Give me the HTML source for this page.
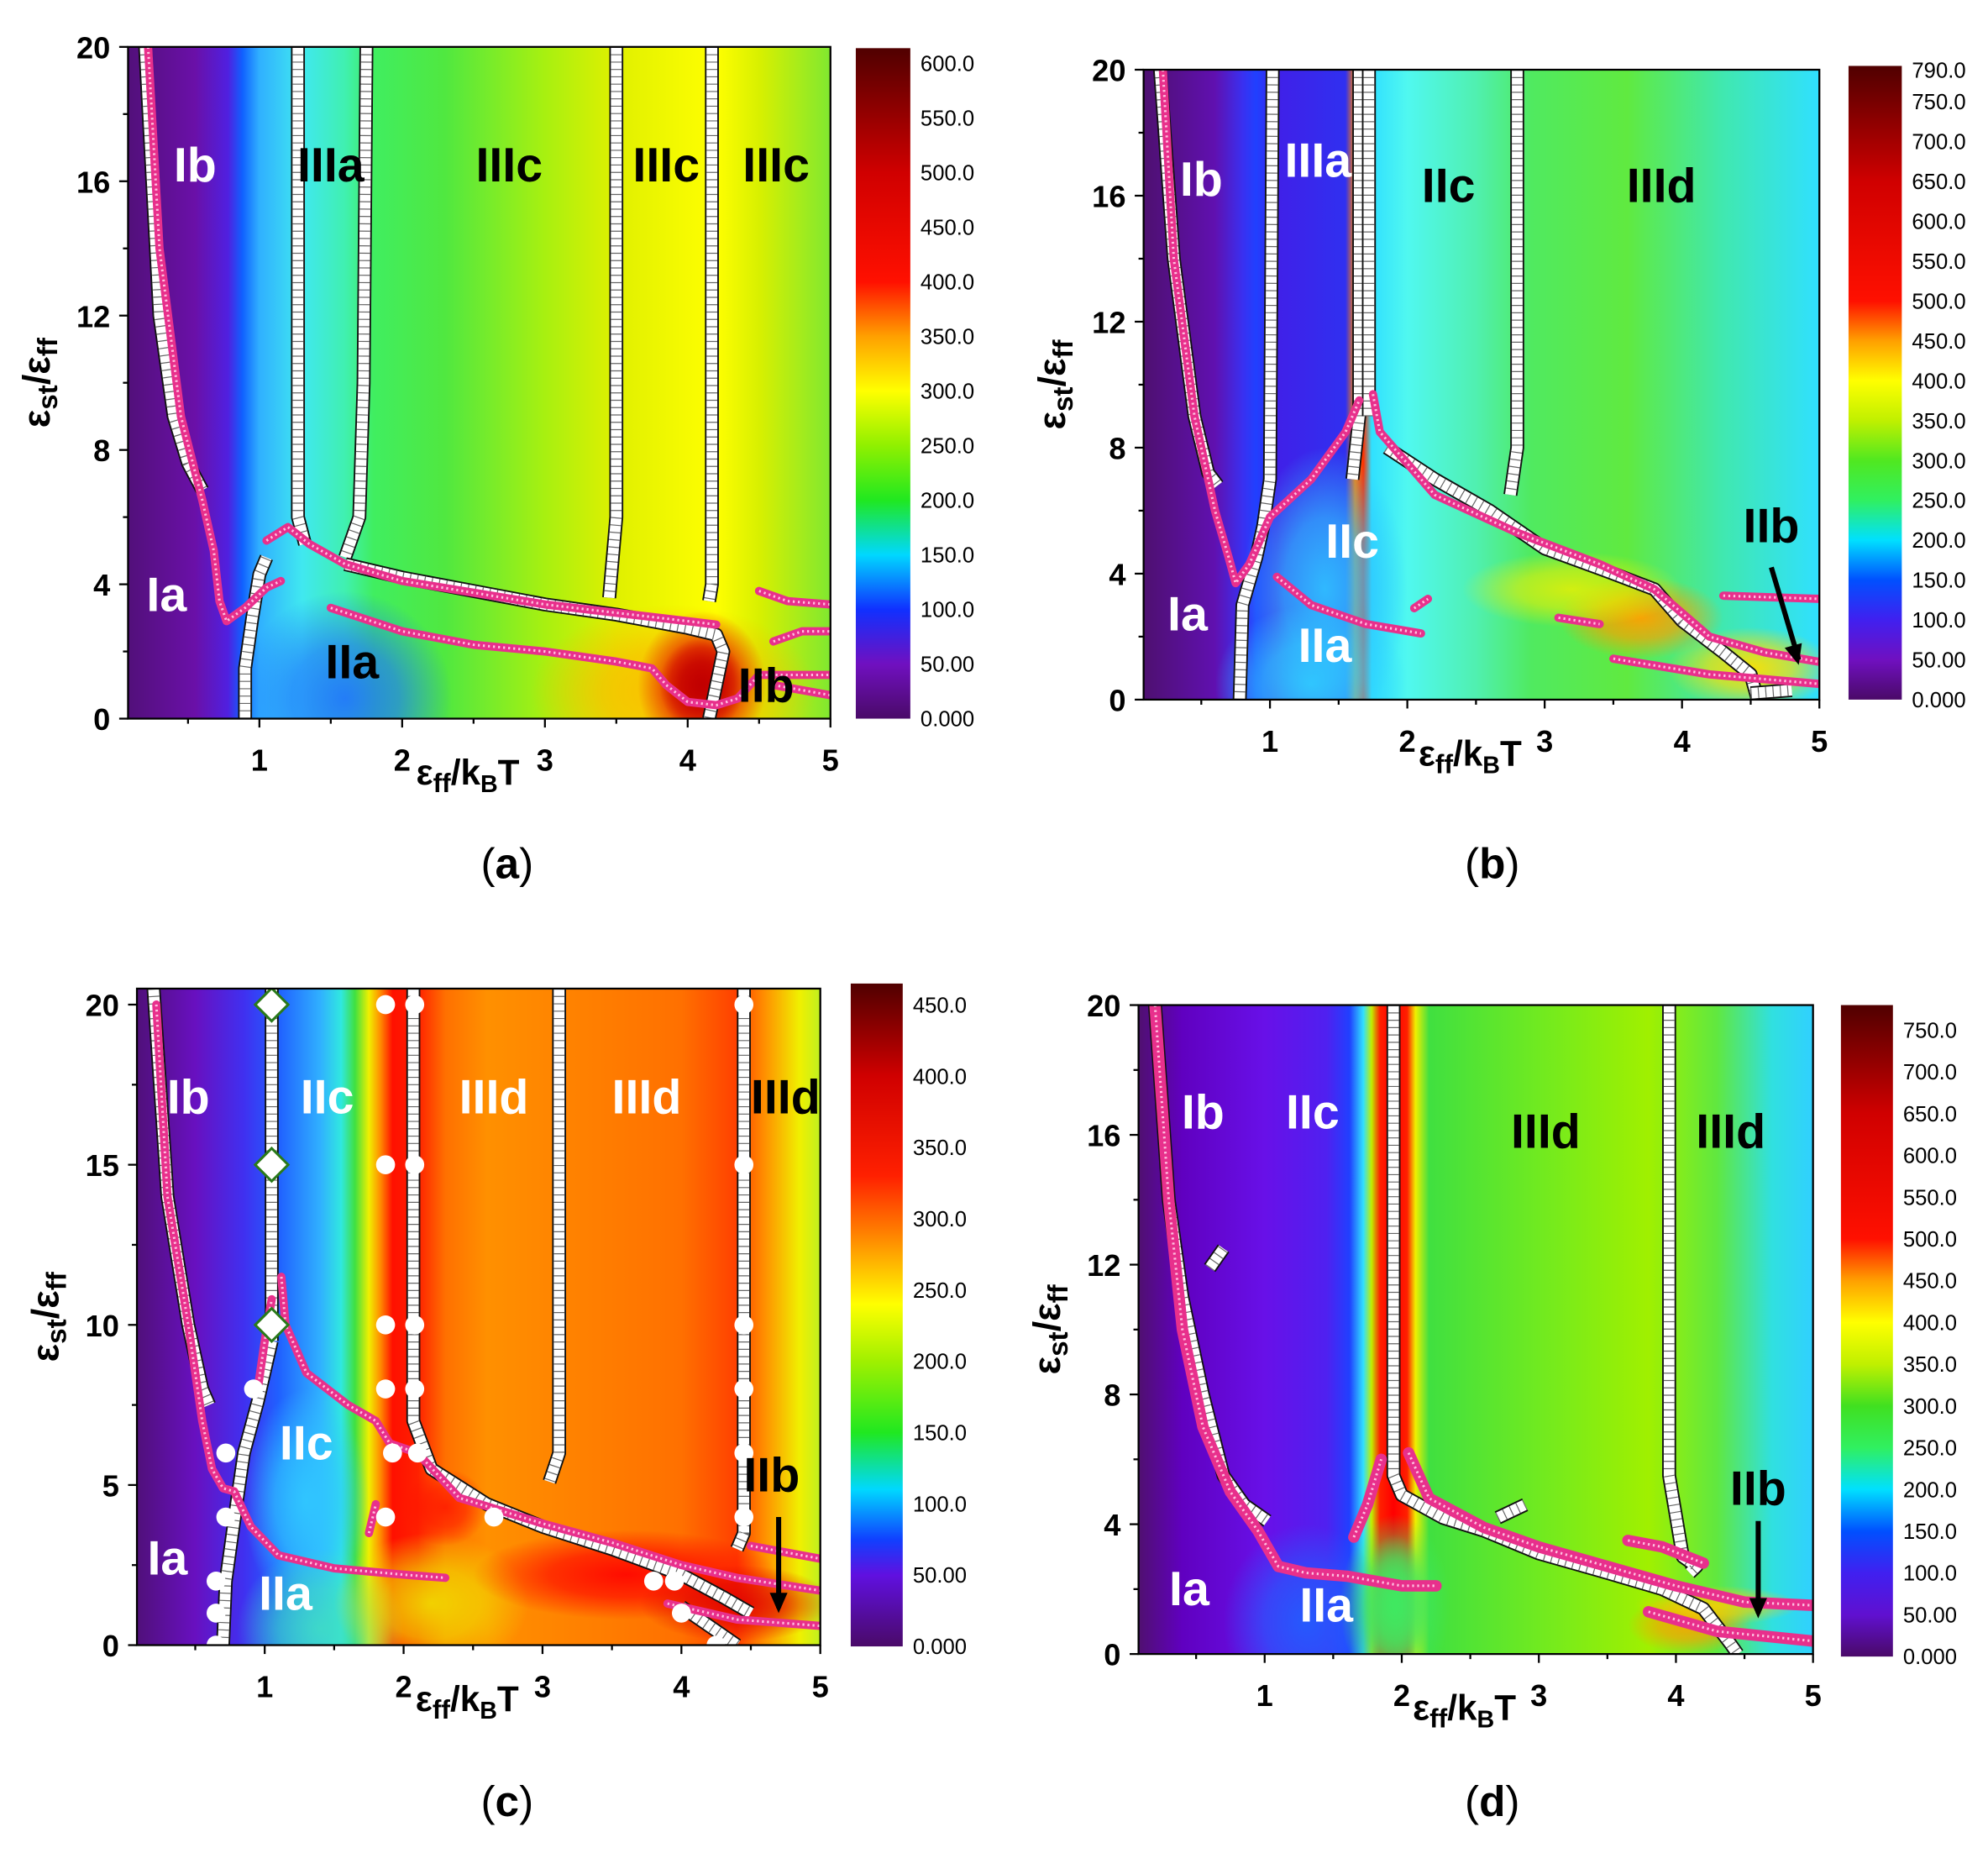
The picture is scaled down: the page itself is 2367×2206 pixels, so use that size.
<!DOCTYPE html>
<html><head><meta charset="utf-8">
<style>
html,body{margin:0;padding:0;background:#fff;}
svg{display:block;}
text{font-family:"Liberation Sans",Arial,sans-serif;}
</style></head>
<body>
<svg id="fig" width="2367" height="2206" viewBox="0 0 1568 1462" preserveAspectRatio="none" xmlns="http://www.w3.org/2000/svg">
<defs id="defs"></defs>
</svg>
<script>
// ---------- DATA ----------
const xTicks = [1,2,3,4,5];
const yTicksA = [0,4,8,12,16,20];
const yTicksC = [0,5,10,15,20];
const cbarLabelsA = ["0.000","50.00","100.0","150.0","200.0","250.0","300.0","350.0","400.0","450.0","500.0","550.0","600.0"];
const cbarValuesA = [0,50,100,150,200,250,300,350,400,450,500,550,600];
const cbarLabelsB = ["0.000","50.00","100.0","150.0","200.0","250.0","300.0","350.0","400.0","450.0","500.0","550.0","600.0","650.0","700.0","750.0","790.0"];
const cbarValuesB = [0,50,100,150,200,250,300,350,400,450,500,550,600,650,700,750,790];
const cbarLabelsC = ["0.000","50.00","100.0","150.0","200.0","250.0","300.0","350.0","400.0","450.0"];
const cbarValuesC = [0,50,100,150,200,250,300,350,400,450];
const cbarLabelsD = ["0.000","50.00","100.0","150.0","200.0","250.0","300.0","350.0","400.0","450.0","500.0","550.0","600.0","650.0","700.0","750.0"];
const cbarValuesD = [0,50,100,150,200,250,300,350,400,450,500,550,600,650,700,750];

// panel a
const aSquares = [
 [[0.2,20],[0.25,16],[0.3,12],[0.4,9],[0.5,7.6],[0.6,6.8]],
 [[0.9,0],[0.9,1.5],[0.95,3],[1.0,4.3],[1.05,4.8]],
 [[1.27,20],[1.27,6],[1.32,5.2]],
 [[1.75,20],[1.73,10],[1.7,6],[1.6,4.8]],
 [[1.6,4.6],[2,4.2],[2.5,3.8],[3,3.4],[3.5,3.1],[4,2.7],[4.2,2.5],[4.25,2],[4.2,1],[4.15,0]],
 [[3.5,20],[3.5,6],[3.45,3.6]],
 [[4.17,20],[4.17,4],[4.15,3.5]]
];
const aStars = [
 [[0.22,20],[0.3,14],[0.45,9],[0.6,6.5],[0.68,5],[0.72,3.5],[0.77,2.9],[0.9,3.3],[1.05,3.9],[1.15,4.1]],
 [[1.05,5.3],[1.2,5.7],[1.35,5.2],[1.6,4.6],[2,4.1],[3,3.4],[4,2.9],[4.2,2.8]],
 [[1.5,3.3],[2,2.6],[2.5,2.2],[3,2],[3.5,1.7],[3.75,1.5],[3.85,1.0],[4.0,0.5],[4.2,0.4],[4.35,0.6],[4.5,1.3],[5,1.3]],
 [[4.5,3.8],[4.7,3.5],[5,3.4]],
 [[4.6,2.3],[4.8,2.6],[5,2.6]],
 [[4.6,1.0],[5,0.7]]
];
const aLabels = [["Ib",0.55,16,"#fff"],["IIIa",1.5,16,"#000"],["IIIc",2.75,16,"#000"],["IIIc",3.85,16,"#000"],["IIIc",4.62,16,"#000"],["Ia",0.35,3.2,"#fff"],["IIa",1.65,1.2,"#000"],["IIb",4.55,0.5,"#000"]];

// panel b
const bSquares = [
 [[0.2,20],[0.3,14],[0.45,9],[0.55,7.2],[0.62,6.8]],
 [[0.78,0],[0.8,3],[0.9,4.5],[0.95,5.5],[1.0,7],[1.02,20]],
 [[1.65,20],[1.65,9],[1.6,7]],
 [[1.72,20],[1.72,9]],
 [[1.85,8],[2.2,7],[2.6,6],[3,4.8],[3.5,4],[3.8,3.5],[4.0,2.5],[4.3,1.5],[4.5,0.8],[4.55,0]],
 [[2.8,20],[2.8,8],[2.75,6.5]],
 [[4.5,0.2],[4.8,0.3]]
];
const bStars = [
 [[0.22,20],[0.3,14],[0.45,9],[0.6,6],[0.7,4.5],[0.75,3.7],[0.85,4.3],[1.0,5.8],[1.3,7],[1.55,8.5],[1.65,9.5]],
 [[1.75,9.7],[1.8,8.5],[2.2,6.5],[2.8,5.3],[3.4,4.3],[3.8,3.5],[4.2,2],[4.6,1.5],[5,1.2]],
 [[1.05,3.9],[1.3,3.0],[1.7,2.4],[2.1,2.1]],
 [[2.05,2.9],[2.15,3.2]],
 [[3.1,2.6],[3.4,2.4]],
 [[3.5,1.3],[4.2,0.8],[5,0.5]],
 [[4.3,3.3],[5,3.2]]
];
const bLabels = [["Ib",0.5,16,"#fff"],["IIIa",1.35,16.6,"#fff"],["IIc",2.3,15.8,"#000"],["IIId",3.85,15.8,"#000"],["IIc",1.6,4.5,"#fff"],["Ia",0.4,2.2,"#fff"],["IIa",1.4,1.2,"#fff"],["IIb",4.65,5,"#000"]];

// panel c
const cSquares = [
 [[0.2,20.5],[0.3,14],[0.45,10],[0.55,8],[0.6,7.5]],
 [[0.7,0],[0.72,2],[0.8,4.5],[0.85,6],[0.95,7.6],[1.05,9.5]],
 [[1.05,20.5],[1.05,9.5]],
 [[2.07,20.5],[2.07,7],[2.2,5.5],[2.6,4.4],[3,3.7],[3.5,3],[4,2.2],[4.3,1.5],[4.5,1]],
 [[3.12,20.5],[3.12,6],[3.05,5.1]],
 [[4.45,20.5],[4.45,3.5],[4.4,3]],
 [[4.0,1.2],[4.3,0.3],[4.4,0]]
];
const cCircles = [[0.65,0],[0.65,1],[0.65,2],[0.72,4],[0.72,6],[0.92,8],[1.87,20],[1.87,15],[1.87,10],[1.87,8],[1.92,6],[1.87,4],[2.08,20],[2.08,15],[2.08,10],[2.08,8],[2.1,6],[2.65,4],[3.8,2],[3.95,2],[4.0,1],[4.25,0],[4.45,20],[4.45,15],[4.45,10],[4.45,8],[4.45,6],[4.45,4]];
const cDiamonds = [[1.05,20],[1.05,15],[1.05,10]];
const cStars = [
 [[0.22,20],[0.3,14],[0.45,10],[0.55,7],[0.62,5.5],[0.7,4.9],[0.78,4.8],[0.9,3.7],[1.1,2.8],[1.5,2.4],[2.0,2.2],[2.3,2.1]],
 [[1.12,11.5],[1.15,10],[1.3,8.5],[1.6,7.5],[1.8,7],[1.9,6.3],[2.1,6],[2.4,4.6],[3,3.8],[3.5,3.2],[4,2.5],[4.4,2.1],[5,1.7]],
 [[0.95,8],[1.0,9.5],[1.05,10.8]],
 [[1.75,3.5],[1.8,4.4]],
 [[4.5,3.1],[5,2.7]],
 [[3.9,1.3],[4.4,0.8],[5,0.6]]
];
const cLabels = [["Ib",0.45,16.6,"#fff"],["IIc",1.45,16.6,"#fff"],["IIId",2.65,16.6,"#fff"],["IIId",3.75,16.6,"#fff"],["IIId",4.75,16.6,"#000"],["IIc",1.3,5.8,"#fff"],["IIb",4.65,4.8,"#000"],["Ia",0.3,2.2,"#fff"],["IIa",1.15,1.1,"#fff"]];

// panel d
const dSquares = [
 [[0.2,20],[0.3,14],[0.4,11],[0.55,8],[0.7,5.5],[0.85,4.6],[1.02,4.1]],
 [[0.6,11.9],[0.7,12.5]],
 [[1.94,20],[1.94,5.5],[2.0,4.9],[2.3,4.2],[2.6,3.8],[3,3.1],[3.5,2.5],[3.9,2.0],[4.2,1.4],[4.4,0.3],[4.45,0]],
 [[2.7,4.2],[2.9,4.6]],
 [[3.95,20],[3.95,5.5],[4.05,3],[4.15,2.7],[4.1,2.5]]
];
const dStars = [
 [[0.2,20],[0.3,14],[0.4,10],[0.55,7],[0.75,5],[0.95,3.8],[1.1,2.7],[1.3,2.5],[1.6,2.4],[2,2.1],[2.25,2.1]],
 [[1.65,3.6],[1.75,4.6],[1.85,6]],
 [[2.05,6.2],[2.2,4.8],[2.6,3.9],[3,3.3],[3.5,2.7],[4,2.1],[4.5,1.6],[5,1.5]],
 [[3.65,3.5],[3.9,3.3],[4.2,2.8]],
 [[3.8,1.3],[4.3,0.7],[5,0.4]]
];
const dLabels = [["Ib",0.55,16.2,"#fff"],["IIc",1.35,16.2,"#fff"],["IIId",3.05,15.6,"#000"],["IIId",4.4,15.6,"#000"],["Ia",0.45,1.5,"#fff"],["IIa",1.45,1.0,"#fff"],["IIb",4.6,4.6,"#000"]];

// ---------- RENDER ----------
const NS="http://www.w3.org/2000/svg";
const svg=document.getElementById('fig');
const defs=document.getElementById('defs');
function mk(tag,attrs,parent){const e=document.createElementNS(NS,tag);for(const k in attrs)e.setAttribute(k,attrs[k]);(parent||svg).appendChild(e);return e;}

const panels=[
 {id:"a",px0:101,px1:655,py0:37,py1:567,ymax:20,yt:yTicksA,ym:2,sq:aSquares,st:aStars,lab:aLabels,cb:[675,718,38,567],cbv:cbarValuesA,cbl:cbarLabelsA,cbmax:614,
  cmap:[[0,"#4a0a68"],[50,"#7010c0"],[100,"#1030ff"],[150,"#00d8ff"],[200,"#20e820"],[250,"#90f000"],[300,"#ffff00"],[350,"#ffa000"],[400,"#ff1000"],[500,"#d00000"],[614,"#500000"]],
  grad:[[0.08,"#52107a"],[0.55,"#6a10a8"],[0.78,"#5020e0"],[0.88,"#1060ff"],[1.0,"#30b0ff"],[1.3,"#40e8f0"],[1.6,"#40f0b0"],[1.8,"#40ee60"],[2.3,"#50e840"],[3.0,"#a8f010"],[3.5,"#e0f000"],[4.2,"#ffff00"],[4.5,"#d8f000"],[5,"#80e830"]],
  blobs:[[1.6,0.6,0.75,3.2,"#2070ff",0.9],[3.9,0.8,1.0,2.6,"#ffb000",0.8],[4.1,1.0,0.45,2.2,"#e00000",1],[4.1,1.0,0.3,1.4,"#c00000",1]],
  cap:["(a)",400,683]},
 {id:"b",px0:902,px1:1435,py0:55,py1:552,ymax:20,yt:yTicksA,ym:2,sq:bSquares,st:bStars,lab:bLabels,cb:[1458,1500,52,552],cbv:cbarValuesB,cbl:cbarLabelsB,cbmax:795,
  cmap:[[0,"#4a0a68"],[50,"#7010c0"],[100,"#4020f0"],[150,"#0050ff"],[200,"#00e0ff"],[250,"#30f060"],[300,"#50e820"],[350,"#c0f000"],[400,"#ffff00"],[450,"#ffa000"],[500,"#ff1000"],[650,"#d00000"],[795,"#500000"]],
  grad:[[0.08,"#4e1070"],[0.6,"#6010b0"],[0.8,"#3a30f0"],[0.9,"#2040ff"],[1.05,"#4020e8"],[1.55,"#3030f0"],[1.62,"#ff8000"],[1.68,"#ff3000"],[1.74,"#30e0ff"],[2.0,"#50f8f0"],[2.5,"#50f0b0"],[2.9,"#50ea60"],[3.6,"#60ea40"],[4.3,"#40e8b0"],[5,"#30e0ff"]],
  blobs:[[1.4,3.5,0.6,4.5,"#30c0ff",0.95],[1.3,0.5,0.7,2.5,"#30d0ff",0.9],[3.7,2.6,0.6,1.3,"#ffa000",0.95],[3.2,3.5,0.8,1.2,"#f0f000",0.8],[4.5,1.0,0.6,1.3,"#ffe000",0.95]],
  cap:["(b)",1177,683]},
 {id:"c",px0:108,px1:647,py0:780,py1:1298,ymax:20.5,yt:yTicksC,ym:2.5,sq:cSquares,st:cStars,lab:cLabels,cb:[671,712,776,1299],cbv:cbarValuesC,cbl:cbarLabelsC,cbmax:465,
  cmap:[[0,"#4a0a68"],[50,"#6010e0"],[75,"#1040ff"],[110,"#00d8ff"],[150,"#20e820"],[200,"#a0f000"],[240,"#ffff00"],[290,"#ff8000"],[330,"#ff2000"],[400,"#d00000"],[465,"#500000"]],
  grad:[[0.08,"#50107a"],[0.5,"#6810c0"],[0.85,"#4030f0"],[1.1,"#2060ff"],[1.4,"#30b0ff"],[1.55,"#30e8e0"],[1.65,"#40e040"],[1.75,"#f0f000"],[1.83,"#ff9000"],[1.92,"#ff1000"],[2.1,"#ff2000"],[2.3,"#ff7000"],[2.6,"#ff9000"],[3.3,"#ff8000"],[4.0,"#ff7000"],[4.4,"#ff4000"],[4.6,"#ff9000"],[4.85,"#f0f000"],[5,"#c0f020"]],
  blobs:[[1.3,4.5,0.45,3.5,"#30c8ff",0.95],[1.4,0.5,0.6,2.5,"#40e0c0",0.85],[2.2,1.3,0.7,2.2,"#f0e000",0.9],[3.6,2.2,1.1,1.4,"#ff0000",0.9],[4.4,1.3,0.7,1.2,"#e00000",0.9],[2.3,4.3,0.3,1.2,"#ff1000",0.8]],
  cap:["(c)",400,1423]},
 {id:"d",px0:898,px1:1430,py0:793,py1:1305,ymax:20,yt:yTicksA,ym:2,sq:dSquares,st:dStars,lab:dLabels,cb:[1452,1493,793,1307],cbv:cbarValuesD,cbl:cbarLabelsD,cbmax:780,
  cmap:[[0,"#4a0a68"],[50,"#6010d0"],[100,"#4020f0"],[150,"#0050ff"],[200,"#00e0ff"],[250,"#30f060"],[300,"#40e020"],[350,"#c0f000"],[400,"#ffff00"],[450,"#ffa000"],[500,"#ff1000"],[650,"#d00000"],[780,"#500000"]],
  grad:[[0.08,"#501070"],[0.4,"#6000c0"],[1.0,"#6810e8"],[1.45,"#5020f0"],[1.62,"#2040ff"],[1.72,"#30e0ff"],[1.78,"#c0f000"],[1.84,"#ff2000"],[1.94,"#ff0000"],[2.04,"#ff2000"],[2.1,"#f0f000"],[2.2,"#40e040"],[3.0,"#70ea20"],[3.8,"#a0f000"],[4.3,"#60e840"],[4.7,"#30e0e0"],[5,"#30d0ff"]],
  blobs:[[1.3,1.0,0.6,3.0,"#2060ff",0.9],[1.95,1.5,0.4,2.8,"#40e860",1],[1.95,1.5,0.25,2.2,"#40e860",1],[4.1,0.9,0.45,0.9,"#ffa000",0.9],[4.3,1.5,0.6,0.6,"#ffd000",0.8]],
  cap:["(d)",1177,1423]}
];

panels.forEach(p=>{
 const xs=v=>p.px0+(v-0.08)/(5-0.08)*(p.px1-p.px0);
 const ys=v=>p.py1-v/p.ymax*(p.py1-p.py0);
 const g=mk('g',{});
 
 
 const lg=mk('linearGradient',{id:'hg'+p.id,x1:0,x2:1,y1:0,y2:0},defs);
 p.grad.forEach(s=>mk('stop',{offset:((s[0]-0.08)/4.92).toFixed(4),'stop-color':s[1]},lg));
 const cp=mk('clipPath',{id:'cp'+p.id},defs);
 mk('rect',{x:p.px0,y:p.py0,width:p.px1-p.px0,height:p.py1-p.py0},cp);
 const hm=mk('g',{'clip-path':'url(#cp'+p.id+')'},g);
 
 
 mk('rect',{x:p.px0,y:p.py0,width:p.px1-p.px0,height:p.py1-p.py0,fill:'url(#hg'+p.id+')'},hm);
 p.blobs.forEach((b,i)=>{
  const rg=mk('radialGradient',{id:'rg'+p.id+i},defs);
  mk('stop',{offset:0,'stop-color':b[4],'stop-opacity':b[5]},rg);
  mk('stop',{offset:0.5,'stop-color':b[4],'stop-opacity':b[5]*0.7},rg);
  mk('stop',{offset:1,'stop-color':b[4],'stop-opacity':0},rg);
  const sx=(p.px1-p.px0)/4.92, sy=(p.py1-p.py0)/p.ymax;
  mk('ellipse',{cx:xs(b[0]),cy:ys(b[1]),rx:b[2]*sx,ry:b[3]*sy,fill:'url(#rg'+p.id+i+')'},hm);
 });
 p.sq.forEach((s,i)=>{
  const d=s.map((pt,j)=>(j?'L':'M')+xs(pt[0]).toFixed(1)+','+ys(pt[1]).toFixed(1)).join('');
  const sg=mk('g',{},hm);
  
  
  mk('path',{d:d,fill:'none',stroke:'#111','stroke-width':11,'stroke-linejoin':'round'},sg);
  mk('path',{d:d,fill:'none',stroke:'#fff','stroke-width':8.5,'stroke-linejoin':'round'},sg);
  mk('path',{d:d,fill:'none',stroke:'#666','stroke-width':8.5,'stroke-dasharray':'0.8 5'},sg);
 });
 p.st.forEach((s,i)=>{
  const d=s.map((pt,j)=>(j?'L':'M')+xs(pt[0]).toFixed(1)+','+ys(pt[1]).toFixed(1)).join('');
  const sg=mk('g',{},hm);
  
  
  mk('path',{d:d,fill:'none',stroke:'#e8308c','stroke-width':p.id==='d'?9:6.5,'stroke-linejoin':'round','stroke-linecap':'round'},sg);
  mk('path',{d:d,fill:'none',stroke:'#ffc0e0','stroke-width':2,'stroke-dasharray':'1.5 2.5'},sg);
 });
 if(p.id==='c'){
  cCircles.forEach(c=>{
   const e=mk('circle',{cx:xs(c[0]),cy:ys(c[1]),r:7.5,fill:'#fff'},hm);
   
   
  });
  cDiamonds.forEach(c=>{
   const cx=xs(c[0]),cy=ys(c[1]);
   const e=mk('polygon',{points:`${cx},${cy-13} ${cx+13},${cy} ${cx},${cy+13} ${cx-13},${cy}`,fill:'#fff',stroke:'#2a7a1a','stroke-width':2},hm);
   
   
  });
 }
 p.lab.forEach(l=>{
  const t=mk('text',{x:xs(l[1]),y:ys(l[2]),fill:l[3],'font-size':38,'font-weight':'bold','text-anchor':'middle'},g);
  t.textContent=l[0];
  
  
 });
 if(p.id!=='a'){
  const arr={b:[[4.65,4.2],[4.85,1.1]],c:[[4.7,4.0],[4.7,1.0]],d:[[4.6,4.1],[4.6,1.1]]}[p.id];
  const x1=xs(arr[0][0]),y1=ys(arr[0][1]),x2=xs(arr[1][0]),y2=ys(arr[1][1]);
  const ag=mk('g',{},g);
  
  
  mk('line',{x1:x1,y1:y1,x2:x2,y2:y2-4,stroke:'#000','stroke-width':4},ag);
  const ang=Math.atan2(y2-y1,x2-x1);
  const L=16,W=7;
  const bx=x2-L*Math.cos(ang),by=y2-L*Math.sin(ang);
  mk('polygon',{points:`${x2},${y2} ${bx+W*Math.sin(ang)},${by-W*Math.cos(ang)} ${bx-W*Math.sin(ang)},${by+W*Math.cos(ang)}`,fill:'#000'},ag);
 }
 mk('rect',{x:p.px0,y:p.py0,width:p.px1-p.px0,height:p.py1-p.py0,fill:'none',stroke:'#000','stroke-width':1.5},g);
 const xa=mk('g',{},g);
 
 
 for(let v=0.5;v<=5.001;v+=0.5){
  const X=xs(v);
  mk('line',{x1:X,x2:X,y1:p.py1,y2:p.py1+(Number.isInteger(v)?7:4),stroke:'#000','stroke-width':1.5},xa);
 }
 xTicks.forEach(v=>{
  const t=mk('text',{x:xs(v),y:p.py1+41,'font-size':24,'font-weight':'bold','text-anchor':'middle'},xa);
  t.textContent=v;
 });
 const xt=mk('text',{x:(p.px0+p.px1)/2-9,y:p.py1+52,'font-size':28,'font-weight':'bold','text-anchor':'middle'},xa);
 xt.innerHTML='ε<tspan font-size="21" dy="6">ff</tspan><tspan dy="-6">/k</tspan><tspan font-size="19" dy="6">B</tspan><tspan dy="-6">T</tspan>';
 
 
 const ya=mk('g',{},g);
 
 
 for(let v=0;v<=p.ymax+0.001;v+=p.ym){
  const Y=ys(v);
  mk('line',{x1:p.px0,x2:p.px0-(p.yt.includes(v)?7:4),y1:Y,y2:Y,stroke:'#000','stroke-width':1.5},ya);
 }
 p.yt.forEach(v=>{
  const t=mk('text',{x:p.px0-14,y:ys(v)+9,'font-size':24,'font-weight':'bold','text-anchor':'end'},ya);
  t.textContent=v;
 });
 const ycx=p.px0-62, ycy=(p.py0+p.py1)/2;
 const yt=mk('text',{x:ycx,y:ycy,'font-size':30,'font-weight':'bold','text-anchor':'middle',transform:`rotate(-90 ${ycx} ${ycy})`},ya);
 yt.innerHTML='ε<tspan font-size="22" dy="6">st</tspan><tspan dy="-6">/ε</tspan><tspan font-size="22" dy="6">ff</tspan>';
 
 
 const [cx0,cx1,cy0,cy1]=p.cb;
 const cg=mk('linearGradient',{id:'cg'+p.id,x1:0,x2:0,y1:1,y2:0},defs);
 p.cmap.forEach(s=>mk('stop',{offset:(s[0]/p.cbmax).toFixed(4),'stop-color':s[1]},cg));
 const cb=mk('g',{},g);
 
 
 mk('rect',{x:cx0,y:cy0,width:cx1-cx0,height:cy1-cy0,fill:'url(#cg'+p.id+')'},cb);
 const vs=v=>cy1-v/p.cbmax*(cy1-cy0);
 p.cbv.forEach((v,i)=>{
  const t=mk('text',{x:cx1+8,y:vs(v)+6,'font-size':17},cb);
  t.textContent=p.cbl[i];
 });
 const cap=mk('text',{x:p.cap[1],y:p.cap[2]+10,'font-size':34,'text-anchor':'middle','font-family':'Liberation Serif, serif'},g);
 cap.innerHTML='(<tspan font-weight="bold">'+p.cap[0].slice(1,2)+'</tspan>)';
 
 
});
</script>
</body></html>
